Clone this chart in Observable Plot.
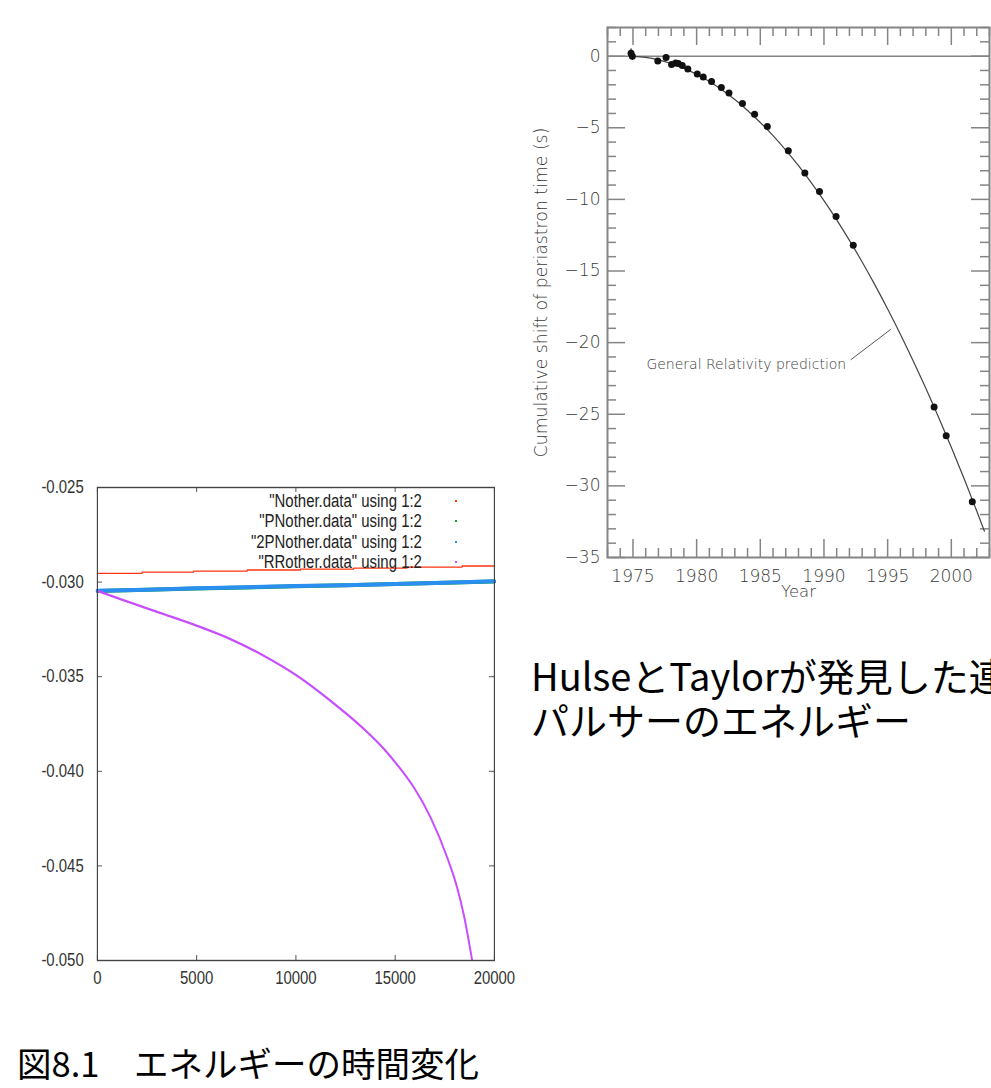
<!DOCTYPE html>
<html>
<head>
<meta charset="utf-8">
<script src="https://cdn.jsdelivr.net/npm/d3@7"></script>
<script src="https://cdn.jsdelivr.net/npm/@observablehq/plot@0.6"></script>
<style>
html, body { margin: 0; padding: 0; background: #fff; }
#page { position: relative; width: 991px; height: 1088px; overflow: hidden; background: #fff; }
.abs { position: absolute; }
#left { left: 0; top: 470px; transform: scaleX(0.83); transform-origin: 0 0; }
#right { left: 520px; top: 0; }
.jp { font-family: "Noto Sans CJK JP", sans-serif; color: #000; white-space: nowrap; }
#legend { left: 150px; top: 491px; width: 330px; font-family: "Liberation Sans", Arial, sans-serif; font-size: 18px; color: #222; }
.lrow { position: relative; height: 20.3px; line-height: 20.3px; }
.ltext { position: absolute; right: 58px; top: 0; white-space: nowrap; transform: scaleX(0.83); transform-origin: right center; }
.lkey { position: absolute; left: 305px; top: 9px; width: 2px; height: 2px; }
</style>
</head>
<body>
<div id="page">
  <div id="left" class="abs"></div>
  <div id="right" class="abs"></div>
  <div id="legend" class="abs"></div>
  <div id="jp" class="abs jp" style="left:531px; top:653px; font-size:38px; line-height:44px;">HulseとTaylorが発見した連<br>パルサーのエネルギー</div>
  <div id="cap" class="abs jp" style="left:17px; top:1045px; font-size:34.5px; line-height:1;">図8.1　エネルギーの時間変化</div>
</div>
<script>
// ---------------- Left chart (gnuplot energy) data ----------------
const xTicksL = [0, 5000, 10000, 15000, 20000];
const yTicksL = [-0.050, -0.045, -0.040, -0.035, -0.030, -0.025];

const legendLabels = ['"Nother.data" using 1:2', '"PNother.data" using 1:2', '"2PNother.data" using 1:2', '"RRother.data" using 1:2'];
const seriesColors = ["#ff3511", "#10a030", "#2a8ff0", "#c84cff"];

const nothT = [0, 2250, 4850, 7540, 10230, 12910, 15600, 18370, 20000];
const nothV = [-0.02954, -0.02947, -0.02942, -0.02936, -0.02931, -0.02926, -0.02921, -0.02915, -0.02915];

const pnT = [0, 2500, 5000, 7500, 10000, 12500, 15000, 17500, 20000];
const pnV = [-0.03047, -0.03041, -0.03034, -0.03028, -0.03022, -0.03016, -0.03010, -0.03004, -0.02997];

const pn2T = [0, 2500, 5000, 7500, 10000, 12500, 15000, 17500, 20000];
const pn2V = [-0.03046, -0.03040, -0.03033, -0.03027, -0.03021, -0.03016, -0.03010, -0.03003, -0.02996];

const rrT = [0, 1160, 3340, 5020, 6700, 8380, 10060, 11740, 13420, 14420, 15100, 15940, 16780, 17620, 18120, 18450, 18880];
const rrV = [-0.03046, -0.03090, -0.03169, -0.03231, -0.03301, -0.03389, -0.03495, -0.03627, -0.03776, -0.03880, -0.03965, -0.04085, -0.04243, -0.04455, -0.04613, -0.04755, -0.05000];

// ---------------- Right chart (Hulse-Taylor pulsar) data ----------------
const yearMajor = [1975, 1980, 1985, 1990, 1995, 2000];
const yearMinor = d3.range(1973, 2004);
const shiftMajor = [0, -5, -10, -15, -20, -25, -30, -35];
const shiftMinor = d3.range(-35, 3);

const obsYear  = [1974.85, 1974.95, 1976.95, 1977.6, 1978.03, 1978.35, 1978.56, 1978.87, 1979.31, 1980.05, 1980.52, 1981.17, 1981.94, 1982.54, 1983.6, 1984.55, 1985.55, 1987.2, 1988.5, 1989.65, 1990.95, 1992.3, 1998.65, 1999.6, 2001.65];
const obsShift = [0.2, 0.0, -0.33, -0.09, -0.58, -0.47, -0.51, -0.65, -0.89, -1.24, -1.45, -1.77, -2.19, -2.57, -3.31, -4.06, -4.92, -6.6, -8.15, -9.45, -11.2, -13.2, -24.5, -26.5, -31.1];
const obsErr   = [0.3, 0.3, 0.17, 0.15, 0.08, 0.08, 0.08, 0.08, 0.08, 0.08, 0.08, 0.08, 0.08, 0.08, 0.08, 0.08, 0.08, 0.08, 0.08, 0.08, 0.08, 0.08, 0.08, 0.08, 0.08];

const grYear  = [1975, 1976, 1977, 1978, 1979, 1980, 1981, 1982, 1983, 1984, 1985, 1986, 1987, 1988, 1989, 1990, 1991, 1992, 1993, 1994, 1995, 1996, 1997, 1998, 1999, 2000, 2001, 2002, 2002.6];
const grShift = [-0.01, -0.09, -0.26, -0.51, -0.85, -1.27, -1.77, -2.36, -3.03, -3.79, -4.63, -5.55, -6.56, -7.65, -8.83, -10.09, -11.43, -12.86, -14.37, -15.97, -17.65, -19.41, -21.26, -23.19, -25.21, -27.31, -29.49, -31.76, -33.16];

const grLabelText = "General Relativity prediction";
const grLabelPos = {year: 1983.9, shift: -21.5};
const grLeader = {year1: 1992.1, shift1: -21.2, year2: 1995.25, shift2: -19.07};

// ---------------- build tables ----------------
const zip = (xs, ys) => xs.map((x, i) => ({x, y: ys[i]}));
const noth = zip(nothT, nothV), pn = zip(pnT, pnV), pn2 = zip(pn2T, pn2V), rr = zip(rrT, rrV);
const obs = obsYear.map((year, i) => ({year, shift: obsShift[i], err: obsErr[i]}));
const gr = grYear.map((year, i) => ({year, shift: grShift[i]}));

// ---------------- Left plot (drawn wide, then squeezed horizontally like the original) ----------------
const S = 0.83;
const LW = 626, LH = 530, LmL = 97 / S, LmR = LW - 494 / S, LmT = 17, LmB = 40;
const LfW = LW - LmL - LmR, LfH = LH - LmT - LmB;
const axisCol = "#444";
const left = Plot.plot({
  width: LW, height: LH,
  marginLeft: LmL, marginRight: LmR, marginTop: LmT, marginBottom: LmB,
  x: {domain: [0, 20000]},
  y: {domain: [-0.050, -0.025]},
  style: {fontFamily: '"Liberation Sans", Arial, sans-serif', fontSize: "18px", color: "#333", background: "transparent", overflow: "visible", maxWidth: "none"},
  marks: [
    Plot.axisX(xTicksL, {tickSize: 0, tickPadding: 11, label: null, tickFormat: d => String(d), fill: "#333"}),
    Plot.axisY(yTicksL, {tickSize: 0, tickPadding: 16.5, label: null, tickFormat: d => d.toFixed(3), fill: "#333"}),
    Plot.tickX(xTicksL, {x: d => d, insetTop: LfH - 5, stroke: axisCol}),
    Plot.tickX(xTicksL, {x: d => d, insetBottom: LfH - 5, stroke: axisCol}),
    Plot.tickY(yTicksL, {y: d => d, insetRight: LfW - 6, stroke: axisCol}),
    Plot.tickY(yTicksL, {y: d => d, insetLeft: LfW - 6, stroke: axisCol}),
    Plot.line(pn, {x: "x", y: "y", stroke: seriesColors[1], strokeWidth: 4}),
    Plot.line(pn2, {x: "x", y: "y", stroke: seriesColors[2], strokeWidth: 4}),
    Plot.line(noth, {x: "x", y: "y", stroke: seriesColors[0], strokeWidth: 1.3, curve: "step-after"}),
    Plot.line(rr, {x: "x", y: "y", stroke: seriesColors[3], strokeWidth: 2.3, curve: "monotone-x", clip: true}),
    Plot.frame({stroke: axisCol, strokeWidth: 1.4})
  ]
});
document.getElementById("left").appendChild(left);

// legend (gnuplot key)
const legend = document.getElementById("legend");
legendLabels.forEach((lab, i) => {
  const row = document.createElement("div");
  row.className = "lrow";
  const t = document.createElement("span");
  t.className = "ltext";
  t.textContent = lab;
  const k = document.createElement("span");
  k.className = "lkey";
  k.style.background = seriesColors[i];
  row.appendChild(t); row.appendChild(k);
  legend.appendChild(row);
});

// ---------------- Right plot ----------------
const RW = 471, RH = 610, RmL = 87, RmR = 2, RmT = 27, RmB = 53;
const RfW = RW - RmL - RmR, RfH = RH - RmT - RmB;
const gray = "#858585";
const txt = "#3a3a3a";
const minorYears = yearMinor.filter(y => !yearMajor.includes(y));
const minorShift = shiftMinor.filter(s => !shiftMajor.includes(s));
const right = Plot.plot({
  width: RW, height: RH,
  marginLeft: RmL, marginRight: RmR, marginTop: RmT, marginBottom: RmB,
  x: {domain: [1973, 2003]},
  y: {domain: [-35, 2]},
  style: {fontFamily: '"DejaVu Sans", sans-serif', fontWeight: 200, fontSize: "17px", color: txt, background: "transparent", overflow: "visible"},
  marks: [
    Plot.axisX(yearMajor, {tickSize: 0, tickPadding: 12, label: null, tickFormat: d => String(d), fill: txt}),
    Plot.axisY(shiftMajor, {tickSize: 0, tickPadding: 7, label: null, tickFormat: d => d === 0 ? "0" : "\u2212" + Math.abs(d), fill: txt}),
    Plot.text([grLabelText], {x: () => grLabelPos.year, y: () => grLabelPos.shift, text: d => d, fontSize: 14, fill: txt}),
    Plot.text(["Year"], {frameAnchor: "bottom", dy: 39, text: d => d, fontSize: 16.5, fill: txt}),
    Plot.text(["Cumulative shift of periastron time (s)"], {frameAnchor: "left", dx: -66, rotate: -90, textAnchor: "middle", text: d => d, fontSize: 17.3, fill: txt}),
    Plot.link([grLeader], {x1: "year1", y1: "shift1", x2: "year2", y2: "shift2", stroke: "#555", strokeWidth: 1}),
    Plot.tickX(yearMajor, {x: d => d, insetTop: RfH - 18, stroke: gray, strokeWidth: 1.5}),
    Plot.tickX(yearMajor, {x: d => d, insetBottom: RfH - 18, stroke: gray, strokeWidth: 1.5}),
    Plot.tickX(minorYears, {x: d => d, insetTop: RfH - 9, stroke: gray, strokeWidth: 1.5}),
    Plot.tickX(minorYears, {x: d => d, insetBottom: RfH - 9, stroke: gray, strokeWidth: 1.5}),
    Plot.tickY(shiftMajor, {y: d => d, insetRight: RfW - 18, stroke: gray, strokeWidth: 1.5}),
    Plot.tickY(shiftMajor, {y: d => d, insetLeft: RfW - 18, stroke: gray, strokeWidth: 1.5}),
    Plot.tickY(minorShift, {y: d => d, insetRight: RfW - 9, stroke: gray, strokeWidth: 1.5}),
    Plot.tickY(minorShift, {y: d => d, insetLeft: RfW - 9, stroke: gray, strokeWidth: 1.5}),
    Plot.ruleY([0], {stroke: gray, strokeWidth: 1.5}),
    Plot.line(gr, {x: "year", y: "shift", stroke: "#444", strokeWidth: 1.2, curve: "monotone-x"}),
    Plot.ruleX(obs, {x: "year", y1: d => d.shift - d.err, y2: d => d.shift + d.err, stroke: "#111", strokeWidth: 1.2}),
    Plot.dot(obs, {x: "year", y: "shift", r: 3.5, fill: "#111", stroke: "none"}),
    Plot.frame({stroke: gray, strokeWidth: 2})
  ]
});
document.getElementById("right").appendChild(right);
</script>
</body>
</html>
